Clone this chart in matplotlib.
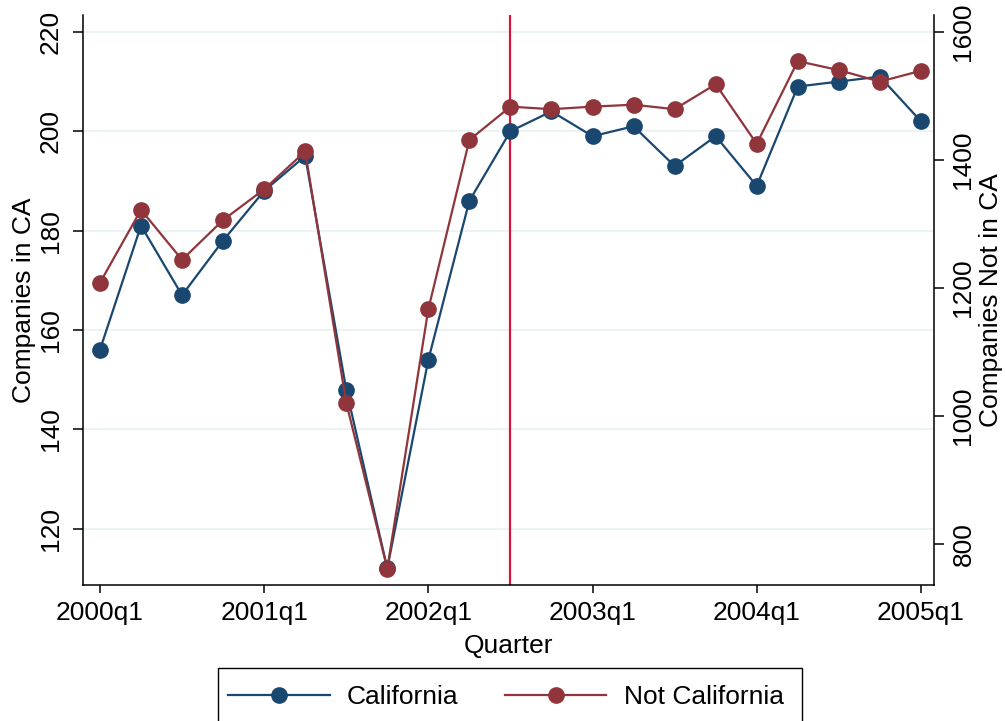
import matplotlib
matplotlib.use('Agg')
import matplotlib.pyplot as plt
from matplotlib.patches import Rectangle
import numpy as np

plt.rcParams['font.family'] = ['Liberation Sans', 'DejaVu Sans']

# Quarterly company counts, 2000q1 through 2005q1
quarters = np.arange(21)
tick_quarters = [0, 4, 8, 12, 16, 20]
tick_labels = ['2000q1', '2001q1', '2002q1', '2003q1', '2004q1', '2005q1']
california = [156, 181, 167, 178, 188, 195, 148, 112, 154, 186, 200,
              204, 199, 201, 193, 199, 189, 209, 210, 211, 202]
not_california = [1208, 1322, 1244, 1306, 1354, 1413, 1021, 762, 1167, 1431, 1483,
                  1479, 1483, 1486, 1479, 1518, 1425, 1554, 1540, 1522, 1539]
event_quarter = 10  # 2002q3

blue = '#1a476f'
red = '#90353b'
fs = 19

fig = plt.figure(figsize=(10.05, 7.21), dpi=100)
ax = fig.add_axes([0.0823, 0.1882, 0.8471, 0.791])
ax2 = ax.twinx()

ax.axvline(event_quarter, color='#d2143f', linewidth=1.6, zorder=1)
l1, = ax.plot(quarters, california, color=blue, linewidth=1.6, marker='o',
              markersize=11, markeredgecolor=blue, zorder=3, label='California')
l2, = ax2.plot(quarters, not_california, color=red, linewidth=1.6, marker='o',
               markersize=11, markeredgecolor=red, zorder=3, label='Not California')

ax.set_xlim(-0.42, 20.32)
ax.set_ylim(108.6, 223.4)
ax2.set_ylim(736, 1626)

ax.set_yticks([120, 140, 160, 180, 200, 220])
ax2.set_yticks([800, 1000, 1200, 1400, 1600])
ax.set_xticks(tick_quarters)
ax.set_xticklabels(tick_labels)

ax.grid(axis='y', color='#eaf2f3', linewidth=1.3, zorder=0)
ax.set_axisbelow(True)

for s in ['top', 'right']:
    ax.spines[s].set_visible(False)
for s in ['top', 'left', 'bottom']:
    ax2.spines[s].set_visible(False)
for sp in [ax.spines['left'], ax.spines['bottom'], ax2.spines['right']]:
    sp.set_linewidth(1.1)

ax.tick_params(axis='both', direction='out', length=7.5, width=1.1, labelsize=fs, pad=7)
ax.tick_params(axis='x', length=6, pad=5)
ax2.tick_params(axis='y', direction='out', length=7.5, width=1.1, labelsize=fs, pad=5)
for t in ax.get_yticklabels():
    t.set_rotation(90)
    t.set_va('center')
for t in ax2.get_yticklabels():
    t.set_rotation(90)
    t.set_va('center')

ax.set_xlabel('Quarter', fontsize=fs, labelpad=6.5)
ax.set_ylabel('Companies in CA', fontsize=fs)
ax2.set_ylabel('Companies Not in CA', fontsize=fs)
ax.yaxis.set_label_coords(-0.0549, 0.5)
ax2.yaxis.set_label_coords(1.0525, 0.5)

# legend box runs off the bottom edge of the figure
fig.patches.append(Rectangle((218 / 1005, -20 / 721), 584 / 1005, 73 / 721,
                             transform=fig.transFigure, facecolor='white',
                             edgecolor='black', linewidth=1.0, zorder=0))
fig.legend(handles=[l1, l2], loc='center', bbox_to_anchor=(505.9 / 1005, 1 - 697 / 721),
           ncol=2, fontsize=fs, frameon=False, borderpad=0, borderaxespad=0,
           handlelength=3.85, handletextpad=0.65, columnspacing=1.75)

fig.savefig('out.png', dpi=100)
